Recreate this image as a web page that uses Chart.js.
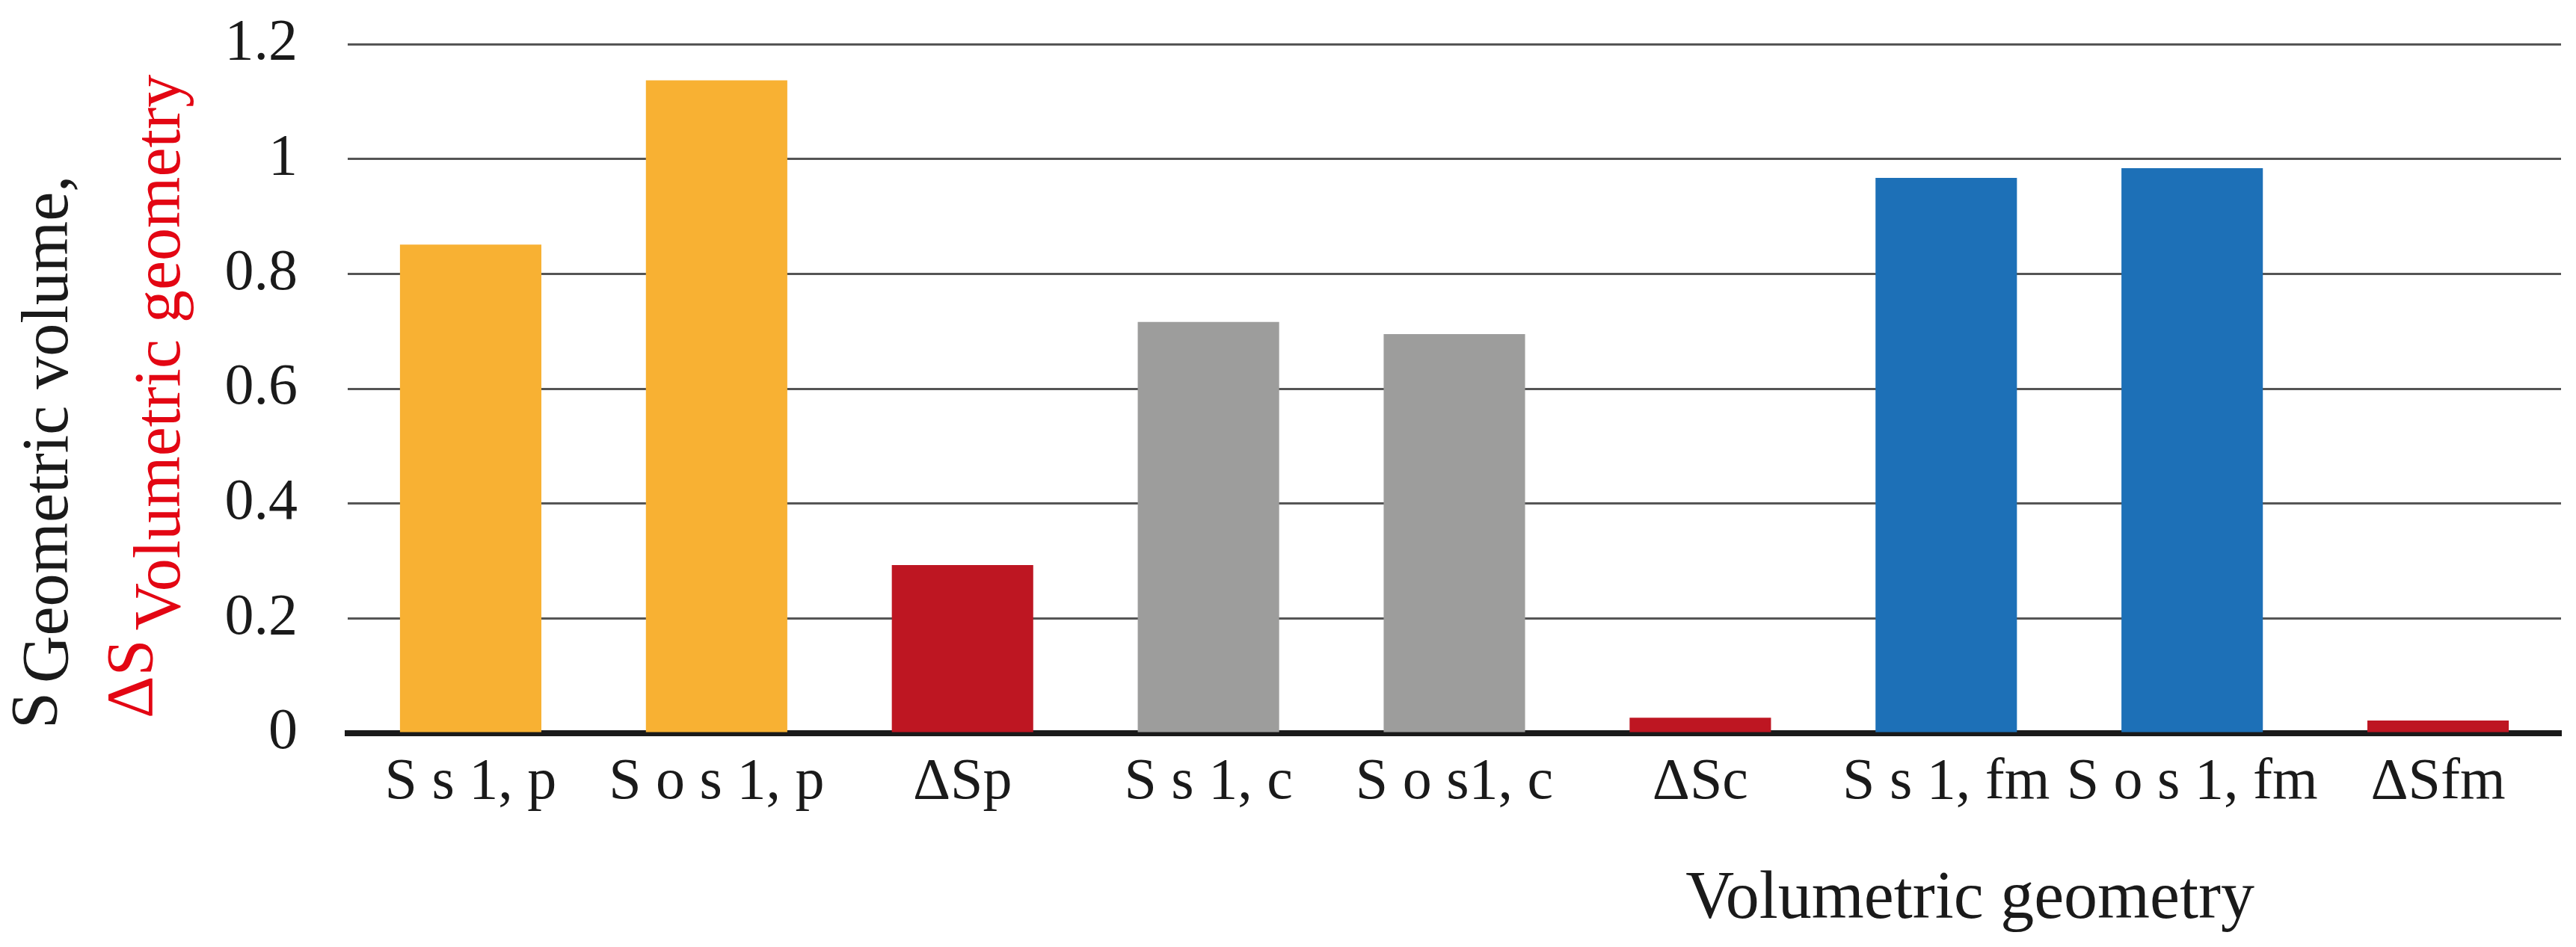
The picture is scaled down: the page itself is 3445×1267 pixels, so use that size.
<!DOCTYPE html>
<html>
<head>
<meta charset="utf-8">
<title>Volumetric geometry</title>
<script src="https://cdn.jsdelivr.net/npm/chart.js@4"></script>
<style>
  html, body { margin: 0; padding: 0; background: #fff; }
  #wrap { width: 3445px; height: 1267px; }
</style>
</head>
<body>
<div id="wrap"><canvas id="grafico" width="3445" height="1267"></canvas></div>
<script>
// dados
var categorias = ['S s 1, p', 'S o s 1, p', '\u0394Sp', 'S s 1, c', 'S o s1, c', '\u0394Sc', 'S s 1, fm', 'S o s 1, fm', '\u0394Sfm'];
var valores = [0.851, 1.137, 0.293, 0.716, 0.695, 0.027, 0.967, 0.984, 0.022];
var ticksY = [0, 0.2, 0.4, 0.6, 0.8, 1, 1.2];

var tituloX = 'Volumetric geometry';
var tituloY1 = ['S', 'Geometric volume,'];
var tituloY2 = ['\u0394S', 'Volumetric geometry'];

var laranja = '#F8B133', vermelho = '#BE1622', cinza = '#9D9D9C', azul = '#1D70B7';
var cores = [laranja, laranja, vermelho, cinza, cinza, vermelho, azul, azul, vermelho];

var fonte = '"Liberation Serif", "DejaVu Serif", serif';

// titulos desenhados a mao (o do eixo x fica deslocado p/ direita, e o do y tem subscrito)
var titulos = {
  id: 'titulos',
  afterDraw: function (chart) {
    var ctx = chart.ctx;
    var area = chart.chartArea;
    ctx.save();
    ctx.textBaseline = 'alphabetic';
    ctx.textAlign = 'left';

    // eixo x
    ctx.font = '90px ' + fonte;
    ctx.fillStyle = '#1a1a1a';
    ctx.textAlign = 'center';
    ctx.fillText(tituloX, area.left + (area.right - area.left) * 0.733, 1228);
    ctx.textAlign = 'left';

    // eixo y, linha preta
    var base = area.bottom - 6;
    ctx.font = '88px ' + fonte;
    var w = ctx.measureText(tituloY1[0]).width;
    desenhaVertical(ctx, tituloY1[0], 75, base);
    desenhaVertical(ctx, tituloY1[1], 90, base - w - 12);

    // eixo y, linha vermelha
    ctx.fillStyle = '#E30613';
    var w2 = ctx.measureText(tituloY2[0]).width;
    desenhaVertical(ctx, tituloY2[0], 203, base - 14);
    desenhaVertical(ctx, tituloY2[1], 240, base - 14 - w2 - 12);
    ctx.restore();
  }
};

function desenhaVertical(ctx, texto, x, y) {
  ctx.save();
  ctx.translate(x, y);
  ctx.rotate(-Math.PI / 2);
  ctx.fillText(texto, 0, 0);
  ctx.restore();
}

var ctx = document.getElementById('grafico').getContext('2d');
var chart = new Chart(ctx, {
  type: 'bar',
  data: {
    labels: categorias,
    datasets: [
      {
        label: 'S',
        data: valores,
        backgroundColor: cores,
        borderWidth: 0,
        categoryPercentage: 1,
        barPercentage: 0.575
      }
    ]
  },
  options: {
    responsive: false,
    animation: false,
    events: [],
    layout: {
      padding: { top: 59, right: 20, bottom: 0, left: 0 }
    },
    plugins: {
      legend: { display: false },
      tooltip: { enabled: false }
    },
    scales: {
      x: {
        z: 1,
        grid: { display: false, drawTicks: false },
        border: { display: true, color: '#1a1a1a', width: 8 },
        ticks: {
          color: '#1a1a1a',
          font: { family: fonte, size: 78 },
          padding: 20,
          maxRotation: 0,
          autoSkip: false
        },
        afterFit: function (scale) {
          scale.height = 286;
          scale.paddingLeft = 0;
          scale.paddingRight = 0;
        }
      },
      y: {
        min: 0,
        max: 1.2,
        afterBuildTicks: function (scale) {
          scale.ticks = ticksY.map(function (v) { return { value: v }; });
        },
        grid: {
          drawTicks: false,
          color: function (c) { return c.tick && c.tick.value === 0 ? 'rgba(0,0,0,0)' : '#555555'; },
          lineWidth: 3
        },
        border: { display: false },
        ticks: {
          color: '#1a1a1a',
          font: { family: fonte, size: 78 },
          padding: 67,
          callback: function (v) { return String(+v.toFixed(1)); }
        },
        afterFit: function (scale) {
          scale.width = 465;
          scale.paddingTop = 0;
          scale.paddingBottom = 0;
        }
      }
    }
  },
  plugins: [titulos]
});
</script>
</body>
</html>
